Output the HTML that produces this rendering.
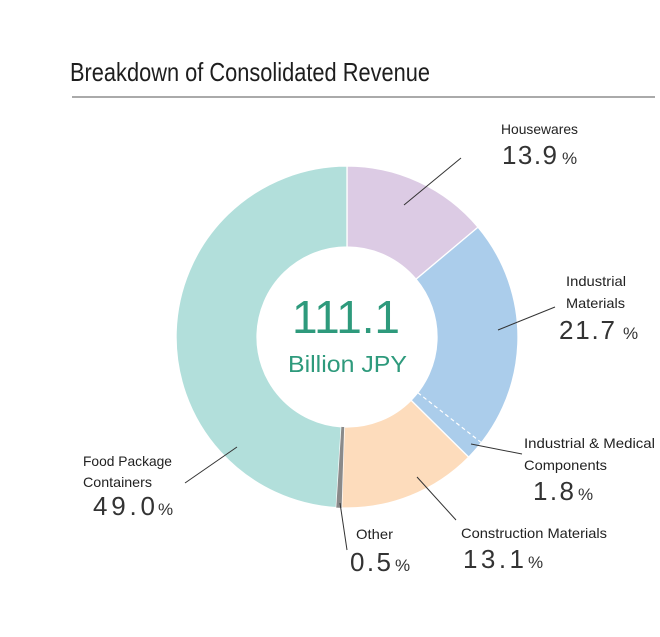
<!DOCTYPE html>
<html>
<head>
<meta charset="utf-8">
<style>
  html,body{margin:0;padding:0;background:#fff;}
  svg{display:block;}
  text{font-family:"Liberation Sans", sans-serif;}
</style>
</head>
<body>
<svg width="660" height="637" viewBox="0 0 660 637" xmlns="http://www.w3.org/2000/svg">
  <rect width="660" height="637" fill="#ffffff"/>
  <!-- Title -->
  <text x="70" y="81" font-size="26" fill="#1e1e1e" textLength="360" lengthAdjust="spacingAndGlyphs">Breakdown  of Consolidated Revenue</text>
  <line x1="72" y1="97" x2="655" y2="97" stroke="#555" stroke-width="1"/>

  <!-- Donut slices -->
  <g stroke="#ffffff" stroke-width="1.3" stroke-linejoin="miter">
    <path d="M347,166 A171,171 0 0 1 478.07,227.18 L415.99,279.20 A90,90 0 0 0 347,247 Z" fill="#dccbe4"/>
    <path d="M478.07,227.18 A171,171 0 0 1 468.67,457.16 L411.04,400.24 A90,90 0 0 0 415.99,279.20 Z" fill="#abcdeb"/>
    <path d="M468.67,457.16 A171,171 0 0 1 341.63,507.92 L344.17,426.96 A90,90 0 0 0 411.04,400.24 Z" fill="#fddcbc"/>
    <path d="M336.26,507.66 A171,171 0 0 1 347,166 L347,247 A90,90 0 0 0 341.35,426.82 Z" fill="#b2dfdb"/>
  </g>
  <path d="M341.63,507.92 A171,171 0 0 1 336.26,507.66 L341.35,426.82 A90,90 0 0 0 344.17,426.96 Z" fill="#8a8a8a"/>
  <line x1="417.76" y1="392.62" x2="481.44" y2="442.68" stroke="#ffffff" stroke-width="1.2" stroke-dasharray="4,3"/>

  <!-- Center text -->
  <text x="292" y="333" font-size="46" fill="#2e9a7c" textLength="108" lengthAdjust="spacing">111.1</text>
  <text x="288" y="372" font-size="23" fill="#2e9a7c" textLength="119" lengthAdjust="spacingAndGlyphs">Billion JPY</text>

  <!-- Leader lines -->
  <g stroke="#333" stroke-width="1">
    <line x1="461" y1="158" x2="404" y2="205"/>
    <line x1="555" y1="307" x2="498" y2="330"/>
    <line x1="522" y1="454" x2="471" y2="444"/>
    <line x1="417" y1="477" x2="456" y2="520"/>
    <line x1="340" y1="503" x2="347" y2="550"/>
    <line x1="185" y1="483" x2="237" y2="447"/>
  </g>

  <!-- Labels -->
  <g fill="#222" font-size="14">
    <text x="501" y="134" textLength="77" lengthAdjust="spacingAndGlyphs">Housewares</text>
    <text x="566" y="286" textLength="60" lengthAdjust="spacingAndGlyphs">Industrial</text>
    <text x="566" y="308" textLength="59" lengthAdjust="spacingAndGlyphs">Materials</text>
    <text x="524" y="448" textLength="131" lengthAdjust="spacingAndGlyphs">Industrial &amp; Medical</text>
    <text x="524" y="470" textLength="83" lengthAdjust="spacingAndGlyphs">Components</text>
    <text x="461" y="538" textLength="146" lengthAdjust="spacingAndGlyphs">Construction Materials</text>
    <text x="356" y="539" textLength="37" lengthAdjust="spacingAndGlyphs">Other</text>
    <text x="83" y="466" textLength="89" lengthAdjust="spacingAndGlyphs">Food Package</text>
    <text x="83" y="487" textLength="69" lengthAdjust="spacingAndGlyphs">Containers</text>
  </g>

  <!-- Percentages -->
  <g fill="#333">
    <text x="502" y="164" font-size="26" textLength="55" lengthAdjust="spacing">13.9</text>
    <text x="562" y="164" font-size="17">%</text>

    <text x="559" y="339" font-size="26" textLength="56" lengthAdjust="spacing">21.7</text>
    <text x="623" y="339" font-size="17">%</text>

    <text x="533" y="500" font-size="26" textLength="41" lengthAdjust="spacing">1.8</text>
    <text x="578" y="500" font-size="17">%</text>

    <text x="463" y="568" font-size="26" textLength="61" lengthAdjust="spacing">13.1</text>
    <text x="528" y="568" font-size="17">%</text>

    <text x="350" y="571" font-size="26" textLength="41" lengthAdjust="spacing">0.5</text>
    <text x="395" y="571" font-size="17">%</text>

    <text x="93" y="515" font-size="26" textLength="62" lengthAdjust="spacing">49.0</text>
    <text x="158" y="515" font-size="17">%</text>
  </g>
</svg>
</body>
</html>
